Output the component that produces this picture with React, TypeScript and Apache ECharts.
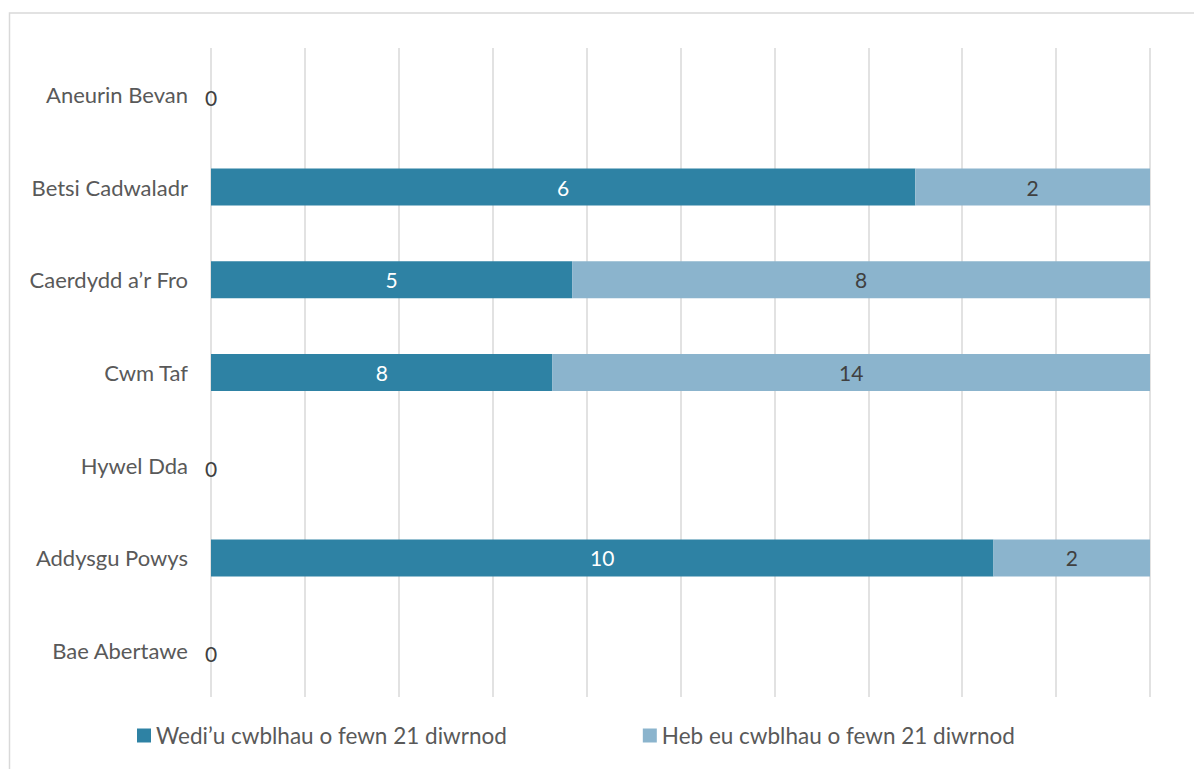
import React, { useEffect, useRef } from "react";
import * as echarts from "echarts";

const categories = [
  "Aneurin Bevan",
  "Betsi Cadwaladr",
  "Caerdydd a’r Fro",
  "Cwm Taf",
  "Hywel Dda",
  "Addysgu Powys",
  "Bae Abertawe",
];
const completed = [0, 6, 5, 8, 0, 10, 0];
const notCompleted = [0, 2, 8, 14, 0, 2, 0];
const seriesNames = ["Wedi’u cwblhau o fewn 21 diwrnod", "Heb eu cwblhau o fewn 21 diwrnod"];
const colors = ["#2E82A4", "#8BB4CD"];

const FONT = "Lato, 'Liberation Sans', sans-serif";

export default function App() {
  const ref = useRef<HTMLDivElement>(null);
  useEffect(() => {
    if (!ref.current) return;
    const chart = echarts.init(ref.current, undefined, { renderer: "svg" });
    const totals = completed.map((c, i) => c + notCompleted[i]);
    const pct = (arr: number[]) =>
      arr.map((v, i) => (totals[i] === 0 ? 0 : (v / totals[i]) * 100));
    const p1 = pct(completed);
    const p2 = pct(notCompleted);

    const data1 = p1.map((v, i) => ({
      value: v,
      raw: completed[i],
      label:
        totals[i] === 0
          ? { show: true, color: "#404040", position: "inside" as const, offset: [0, 3] }
          : { show: true, color: "#ffffff" },
    }));
    const data2 = p2.map((v, i) => ({
      value: v,
      raw: notCompleted[i],
      label: { show: totals[i] !== 0, color: "#404040" },
    }));

    chart.setOption({
      animation: false,
      textStyle: { fontFamily: FONT },
      graphic: [
        {
          type: "rect",
          shape: { x: 9.5, y: 13, width: 1300, height: 900 },
          style: { fill: "none", stroke: "#D9D9D9", lineWidth: 1.5 },
          silent: true,
        },
      ],
      grid: { left: 211, right: 44, top: 48, bottom: 72, containLabel: false },
      legend: {
        left: 132,
        top: 719,
        itemWidth: 14,
        itemHeight: 14,
        itemGap: 136,
        icon: "rect",
        textStyle: { fontSize: 22.5, color: "#595959", fontFamily: FONT },
        data: seriesNames,
      },
      xAxis: {
        type: "value",
        min: 0,
        max: 100,
        interval: 10,
        axisLabel: { show: false },
        axisLine: { show: false },
        axisTick: { show: false },
        splitLine: { show: true, lineStyle: { color: "#D9D9D9", width: 1.5 } },
      },
      yAxis: {
        type: "category",
        inverse: true,
        data: categories,
        axisLine: { show: false },
        axisTick: { show: false },
        axisLabel: { color: "#595959", fontSize: 22, margin: 23, fontFamily: FONT },
      },
      series: [
        {
          name: seriesNames[0],
          type: "bar",
          stack: "total",
          barWidth: "40%",
          itemStyle: { color: colors[0] },
          label: {
            show: true,
            position: "inside",
            fontSize: 21,
            fontFamily: FONT,
            formatter: (p: any) => String(p.data.raw),
          },
          data: data1,
        },
        {
          name: seriesNames[1],
          type: "bar",
          stack: "total",
          barWidth: "40%",
          itemStyle: { color: colors[1] },
          label: {
            show: true,
            position: "inside",
            fontSize: 21,
            fontFamily: FONT,
            formatter: (p: any) => String(p.data.raw),
          },
          data: data2,
        },
      ],
    });
    return () => chart.dispose();
  }, []);
  return (
    <div
      ref={ref}
      style={{ position: "fixed", left: 0, top: 0, width: 1194, height: 769, background: "#fff" }}
    />
  );
}
